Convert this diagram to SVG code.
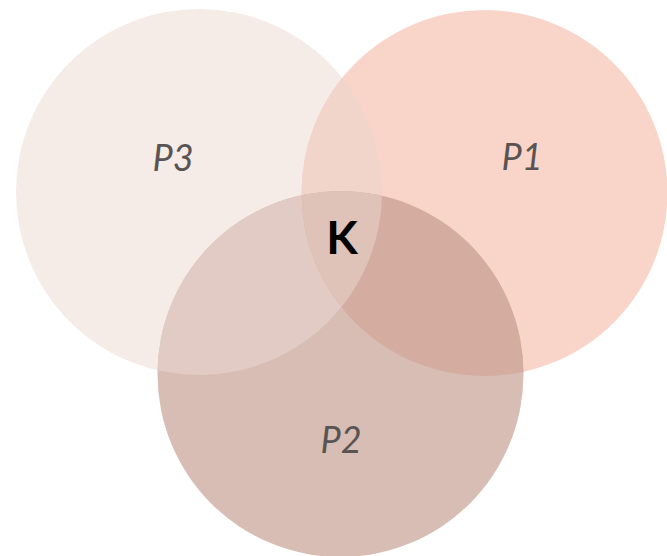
<svg xmlns="http://www.w3.org/2000/svg" width="667" height="556" viewBox="0 0 667 556">
  <defs>
    <clipPath id="clip-p3"><circle cx="199" cy="192" r="183"/></clipPath>
    <clipPath id="clip-p1"><circle cx="484.5" cy="193" r="183"/></clipPath>
    <clipPath id="clip-p2"><circle cx="340.5" cy="374" r="183"/></clipPath>
  </defs>
  <style>
    .label { font-family: Lato, "Liberation Sans", sans-serif; font-style: italic; font-size: 36px; fill: #595453; text-anchor: middle; }
    .core { font-family: Lato, "Liberation Sans", sans-serif; font-weight: bold; font-size: 46px; fill: #000000; text-anchor: middle; }
  </style>
  <rect width="667" height="556" fill="#ffffff"/>

  <!-- Set circles -->
  <g id="P3"><circle cx="199" cy="192" r="183" fill="#f5ebe7"/></g>
  <g id="P1"><circle cx="484.5" cy="193" r="183" fill="#f9d5c9"/></g>
  <g id="P2"><circle cx="340.5" cy="374" r="183" fill="#d7bdb4"/></g>

  <!-- Pairwise and triple overlaps -->
  <g id="overlaps">
    <g clip-path="url(#clip-p3)"><circle cx="484.5" cy="193" r="183" fill="#f1d5cb"/></g>
    <g clip-path="url(#clip-p3)"><circle cx="340.5" cy="374" r="183" fill="#e1cbc4"/></g>
    <g clip-path="url(#clip-p1)"><circle cx="340.5" cy="374" r="183" fill="#d4aca0"/></g>
    <g clip-path="url(#clip-p3)"><g clip-path="url(#clip-p1)"><circle cx="340.5" cy="374" r="183" fill="#dfc3b9"/></g></g>
  </g>

  <!-- Labels -->
  <g id="labels">
    <text class="label" x="173" y="171">P3</text>
    <text class="label" x="522" y="170">P1</text>
    <text class="label" x="341" y="453">P2</text>
    <text class="core" x="342" y="254">K</text>
  </g>
</svg>
